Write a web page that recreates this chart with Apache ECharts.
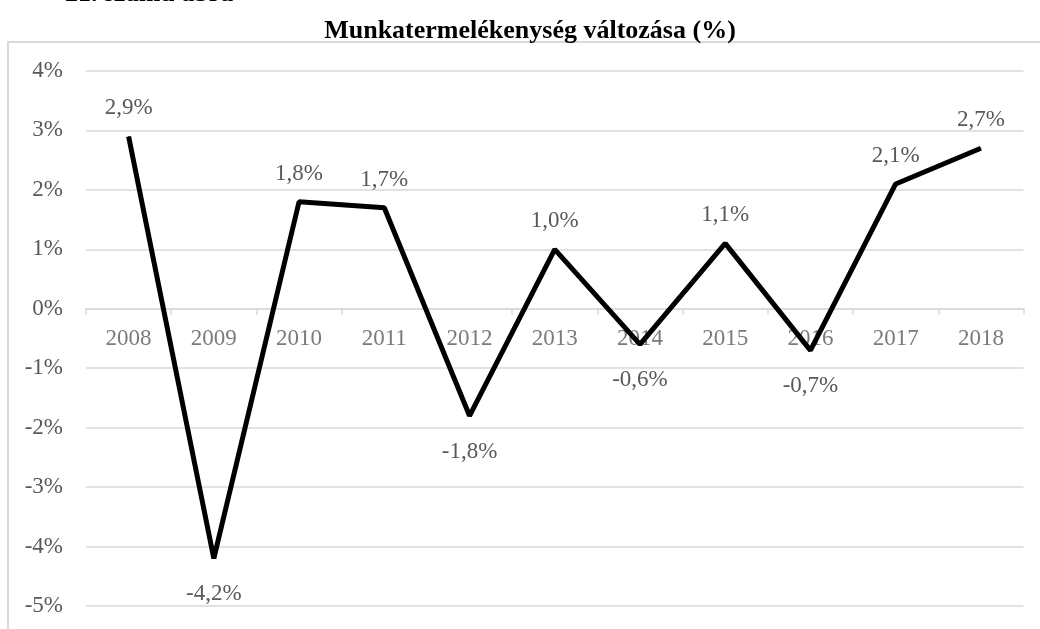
<!DOCTYPE html>
<html>
<head>
<meta charset="utf-8">
<script src="https://cdn.jsdelivr.net/npm/echarts@6/dist/echarts.min.js"></script>
<style>
  html, body { margin: 0; padding: 0; background: #fff; }
  #chart { width: 1040px; height: 629px; }
</style>
</head>
<body>
<div id="chart"></div>
<script>
const years = ['2008', '2009', '2010', '2011', '2012', '2013', '2014', '2015', '2016', '2017', '2018']
const productivity = [2.9, -4.2, 1.8, 1.7, -1.8, 1.0, -0.6, 1.1, -0.7, 2.1, 2.7]

const FONT = 'Liberation Serif'
const GRAY = '#595959'
const LINE = '#d9d9d9'

const fmt = v => v.toFixed(1).replace('.', ',') + '%'

const chart = echarts.init(document.getElementById('chart'))

chart.setOption({
  animation: false,
  title: {
    text: 'Munkatermelékenység változása (%)',
    left: 525,
    textAlign: 'center',
    top: 13,
    textStyle: { fontFamily: FONT, fontWeight: 'bold', fontSize: 26, color: '#000' }
  },
  graphic: [
    {
      type: 'rect',
      shape: { x: 8, y: 42, width: 1200, height: 800 },
      style: { fill: 'none', stroke: LINE, lineWidth: 2 },
      silent: true
    },
    {
      type: 'text',
      x: 65,
      y: 7,
      style: {
        text: '21. számú ábra',
        font: 'bold 26px "Liberation Serif"',
        fill: '#000',
        verticalAlign: 'bottom'
      }
    }
  ],
  grid: { left: 86, right: 16.5, top: 71, bottom: 23, containLabel: false },
  xAxis: {
    type: 'category',
    data: years,
    boundaryGap: true,
    axisLine: { onZero: true, lineStyle: { color: LINE, width: 1.5 } },
    axisTick: { show: true, length: 6, lineStyle: { color: LINE, width: 1.5 } },
    axisLabel: { show: false }
  },
  yAxis: {
    type: 'value',
    min: -5,
    max: 4,
    interval: 1,
    axisLine: { show: false },
    axisTick: { show: false },
    splitLine: { lineStyle: { color: LINE, width: 1.5 } },
    axisLabel: {
      margin: 23,
      fontFamily: FONT,
      fontSize: 23,
      color: GRAY,
      formatter: v => v + '%'
    }
  },
  series: [
    {
      // year labels sitting just under the zero line
      type: 'scatter',
      data: years.map(() => 0),
      symbolSize: 0,
      silent: true,
      label: {
        show: true,
        position: 'bottom',
        distance: 19,
        fontFamily: FONT,
        fontSize: 23,
        color: GRAY,
        formatter: p => p.name
      }
    },
    {
      type: 'line',
      data: productivity.map(v => ({
        value: v,
        label: { position: v < 0 ? 'bottom' : 'top', distance: v < 0 ? 24 : 16 }
      })),
      symbol: 'circle',
      symbolSize: 1,
      itemStyle: { color: '#000' },
      lineStyle: { color: '#000', width: 5 },
      label: {
        show: true,
        fontFamily: FONT,
        fontSize: 23,
        color: GRAY,
        formatter: p => fmt(p.value)
      },
      z: 3
    }
  ]
})
</script>
</body>
</html>
